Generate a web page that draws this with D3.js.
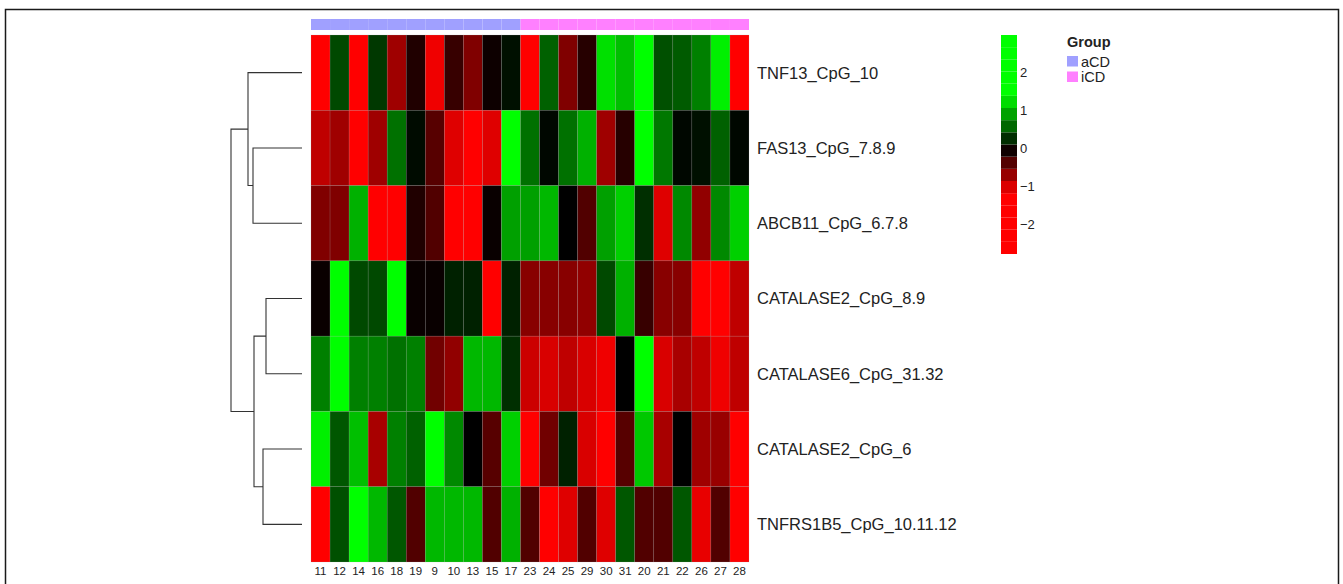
<!DOCTYPE html>
<html><head><meta charset="utf-8">
<script src="https://cdn.jsdelivr.net/npm/d3@7"></script>
<style>html,body{margin:0;padding:0;background:#fff;}svg{display:block;font-family:"Liberation Sans",Arial,sans-serif;}</style>
</head><body>
<svg id="chart" width="1343" height="584"></svg>
<script>
const columns = ["11","12","14","16","18","19","9","10","13","15","17","23","24","25","29","30","31","20","21","22","26","27","28"];
const groups = ["aCD","aCD","aCD","aCD","aCD","aCD","aCD","aCD","aCD","aCD","aCD","iCD","iCD","iCD","iCD","iCD","iCD","iCD","iCD","iCD","iCD","iCD","iCD"];
const rows = ["TNF13_CpG_10","FAS13_CpG_7.8.9","ABCB11_CpG_6.7.8","CATALASE2_CpG_8.9","CATALASE6_CpG_31.32","CATALASE2_CpG_6","TNFRS1B5_CpG_10.11.12"];
const valTNF13 = [-2.3,0.40,-2.4,0.31,-0.75,-0.15,-1.13,-0.26,-0.6,-0.06,0.09,-2.0,0.53,-0.6,-0.18,1.23,1.05,2.4,0.44,0.5,0.7,1.32,-2.3];
const valFAS13 = [-0.9,-0.75,-2.0,-0.75,0.62,0.06,-0.41,-1.05,-1.6,-1.05,2.5,0.62,0.04,0.62,0.97,-0.75,-0.18,2.5,0.66,0.04,0.09,0.53,0.04];
const valABCB11 = [-0.6,-0.6,0.97,-2.0,-2.0,-0.15,-0.38,-2.0,-2.0,-0.04,0.88,0.88,1.01,0.0,-0.38,0.88,1.14,0.26,-1.05,0.75,-0.68,0.75,1.14];
const valCAT2_89 = [-0.04,2.4,0.4,0.4,2.4,-0.04,-0.04,0.18,0.18,-1.8,0.18,-0.64,-0.64,-0.64,-0.68,0.4,0.97,-0.26,-0.64,-0.64,-2.0,-2.0,-0.9];
const valCAT6 = [0.7,2.4,0.7,0.7,0.62,0.7,-0.53,-0.68,1.01,1.01,0.26,-0.96,-1.02,-0.9,-1.02,-1.13,0.0,2.4,-1.02,-0.79,-0.9,-1.13,-0.9];
const valCAT2_6 = [1.32,0.48,1.05,-0.79,0.7,0.53,2.4,0.75,0.0,-0.41,1.14,-2.0,-0.53,0.18,-1.02,-1.6,-0.41,1.1,-0.79,0.0,-0.75,-0.72,-2.0];
const valTNFRS = [-2.0,0.44,2.4,1.01,0.48,-0.38,1.01,1.01,1.01,-0.38,0.97,-0.38,-2.0,-1.05,-0.38,-1.05,0.48,-0.38,-0.38,0.48,-1.09,-0.38,-2.0];
const values = [valTNF13,valFAS13,valABCB11,valCAT2_89,valCAT6,valCAT2_6,valTNFRS];
// hclust-style merges (negative = leaf index, 1-based) and merge heights
const merges = [[-2,-3],[-4,-5],[-6,-7],[-1,1],[2,3],[4,5]];
const mergeHeights = [49,36,39,54,48,71];
const legendTicks = [2,1,0,-1,-2];
const legendRange = [-2.79,2.97];
const groupNames = ["aCD","iCD"];
const groupColors = ["#a0a0ff","#ff80ff"];

const svg = d3.select("#chart");
// frame
svg.append("path").attr("d","M5.5,590 V9.5 H1338.5 V590").attr("fill","none").attr("stroke","#1a1a1a").attr("stroke-width",1.5);

const x = d3.scaleBand().domain(d3.range(columns.length)).range([311,749]);
const y = d3.scaleBand().domain(d3.range(rows.length)).range([35,562]);
const color = d3.scaleLinear().domain([-1.2,0,1.4]).range(["#ff0000","#000000","#00ff00"]).clamp(true);
const gcol = d3.scaleOrdinal().domain(groupNames).range(groupColors);

// annotation bar
svg.append("g").selectAll("rect").data(groups).join("rect")
  .attr("x",(d,i)=>x(i)).attr("y",19).attr("width",x.bandwidth()).attr("height",11)
  .attr("fill",d=>gcol(d));

// heatmap cells
const cells = [];
values.forEach((r,ri)=>r.forEach((v,ci)=>cells.push({ri,ci,v})));
svg.append("g").selectAll("rect").data(cells).join("rect")
  .attr("x",d=>x(d.ci)).attr("y",d=>y(d.ri)).attr("width",x.bandwidth()).attr("height",y.bandwidth())
  .attr("fill",d=>color(d.v)).attr("stroke","rgba(160,160,160,0.35)").attr("stroke-width",0.5);

// column labels
svg.append("g").selectAll("text").data(columns).join("text")
  .attr("x",(d,i)=>x(i)+x.bandwidth()/2).attr("y",575).attr("text-anchor","middle")
  .attr("font-size",11.5).attr("fill","#222").text(d=>d);

// row labels
svg.append("g").selectAll("text").data(rows).join("text")
  .attr("x",757).attr("y",(d,i)=>y(i)+y.bandwidth()/2).attr("dy","0.36em")
  .attr("font-size",16.5).attr("fill","#222").text(d=>d);

// dendrogram
const hx = d3.scaleLinear().domain([0,71]).range([302,231]);
const nodes = [];
function pos(id){
  if(id<0) return {y:y(-id-1)+y.bandwidth()/2, h:0};
  return nodes[id-1];
}
const dg = svg.append("g").attr("fill","none").attr("stroke","#333").attr("stroke-width",1.1);
merges.forEach((m,i)=>{
  const a = pos(m[0]), b = pos(m[1]);
  const h = mergeHeights[i];
  nodes.push({y:(a.y+b.y)/2, h});
  const xn = hx(h);
  dg.append("path").attr("d",`M${hx(a.h)},${a.y} H${xn} V${b.y} H${hx(b.h)}`);
});

// color legend
const ly = d3.scaleLinear().domain(legendRange).range([254,35]);
const nSeg = 18;
const step = (legendRange[1]-legendRange[0])/nSeg;
const segs = d3.range(nSeg).map(i=>legendRange[0]+i*step);
svg.append("g").selectAll("rect").data(segs).join("rect")
  .attr("x",1001).attr("width",16)
  .attr("y",d=>ly(d+step)).attr("height",d=>ly(d)-ly(d+step))
  .attr("fill",d=>color(d+step/2));
svg.append("g").selectAll("text").data(legendTicks).join("text")
  .attr("x",1020).attr("y",d=>ly(d)).attr("dy","0.36em").attr("font-size",13).attr("fill","#222")
  .text(d=>d<0?"\u2212"+Math.abs(d):String(d));

// group legend
svg.append("text").attr("x",1067).attr("y",47).attr("font-size",14.5).attr("font-weight","bold").attr("fill","#222").text("Group");
const gl = svg.append("g").selectAll("g").data(groupNames).join("g")
  .attr("transform",(d,i)=>`translate(1067,${56+i*15.5})`);
gl.append("rect").attr("width",11).attr("height",10.5).attr("fill",d=>gcol(d));
gl.append("text").attr("x",14).attr("y",10.5).attr("font-size",14.5).attr("fill","#222").text(d=>d);
</script>
</body></html>
